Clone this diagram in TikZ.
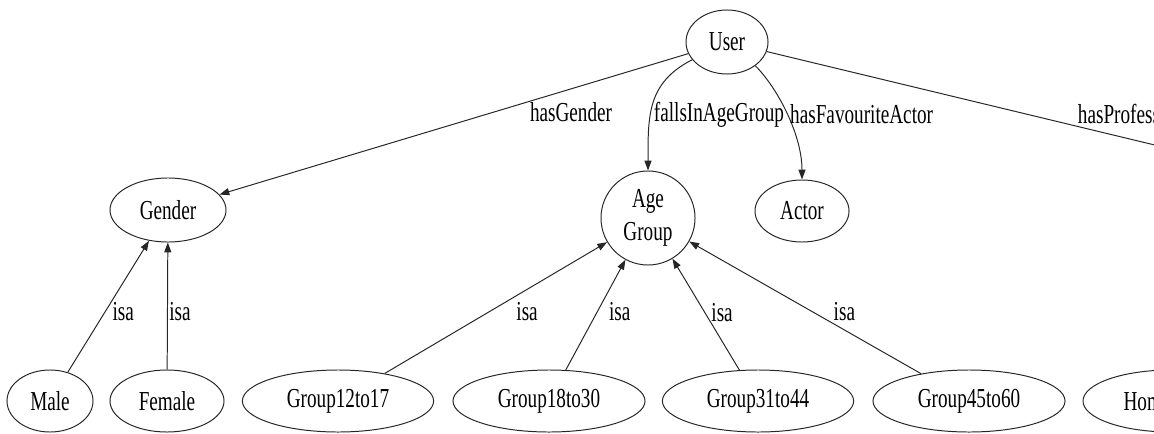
\documentclass[tikz,border=0pt]{standalone}
\usepackage{fontspec}
\setmainfont[FakeStretch=0.7]{Liberation Serif}
\usetikzlibrary{arrows.meta}
\usetikzlibrary{shapes.geometric}

\begin{document}
\begin{tikzpicture}[x=0.025cm, y=-0.025cm,
        font=\fontsize{19.5}{23}\selectfont,
        cls/.style={draw=black!85, ellipse, line width=0.7pt, inner sep=0pt},
        rel/.style={-{Triangle[length=7pt,width=5pt]}, draw=black!85, line width=0.7pt},
        lbl/.style={inner sep=1pt}]
        \useasboundingbox (0,0) rectangle (1154,433);
        \clip (0,0) rectangle (1154,433);

        % classes
        \node[cls, minimum width=2.05cm, minimum height=1.6cm] (user) at (727,42) {User};
        \node[cls, minimum width=2.9cm, minimum height=1.6cm] (gender) at (168,210) {Gender};
        \node[cls, minimum size=2.35cm, align=center] (agegroup) at (648,218) {Age\\Group};
        \node[cls, minimum width=2.35cm, minimum height=1.55cm] (actor) at (802,211) {Actor};
        \coordinate (profession) at (1300,180);

        % subclasses
        \node[cls, minimum width=2.15cm, minimum height=1.55cm] (male) at (50,401) {Male};
        \node[cls, minimum width=2.85cm, minimum height=1.55cm] (female) at (167,401) {Female};
        \node[cls, minimum width=4.78cm, minimum height=1.55cm] (group12) at (338,401) {Group12to17};
        \node[cls, minimum width=4.8cm, minimum height=1.55cm] (group18) at (549,401) {Group18to30};
        \node[cls, minimum width=4.78cm, minimum height=1.55cm] (group31) at (758,401) {Group31to44};
        \node[cls, minimum width=4.8cm, minimum height=1.55cm] (group45) at (969,401) {Group45to60};
        \node[cls, minimum width=4.4cm, minimum height=1.55cm] (homemaker) at (1171,401) {Homemaker};

        % properties of User
        \draw[rel] (user) -- node[lbl, pos=0.25, below=8pt] {hasGender} (gender);
        \draw[rel] (user.207) .. controls +(-45,23) and +(0,-55) .. node[lbl, pos=0.6, right=1pt] {fallsInAgeGroup} (agegroup.north);
        \draw[rel] (user.320) .. controls +(22,22) and +(0,-45) .. node[lbl, pos=0.5, right=1pt] {hasFavouriteActor} (actor.north);
        \draw[rel] (user) -- node[lbl, pos=0.58, anchor=south west] {hasProfession} (profession);

        % isa links
        \draw[rel] (male) -- node[lbl, pos=0.46, right=4pt] {isa} (gender);
        \draw[rel] (female) -- node[lbl, pos=0.46, right] {isa} (gender);
        \draw[rel] (group12) -- node[lbl, pos=0.47, right=18pt] {isa} (agegroup);
        \draw[rel] (group18) -- node[lbl, pos=0.53, right=7pt] {isa} (agegroup);
        \draw[rel] (group31) -- node[lbl, pos=0.52, right=3.5pt] {isa} (agegroup);
        \draw[rel] (group45) -- node[lbl, pos=0.47, right=14pt] {isa} (agegroup);
\end{tikzpicture}
\end{document}
